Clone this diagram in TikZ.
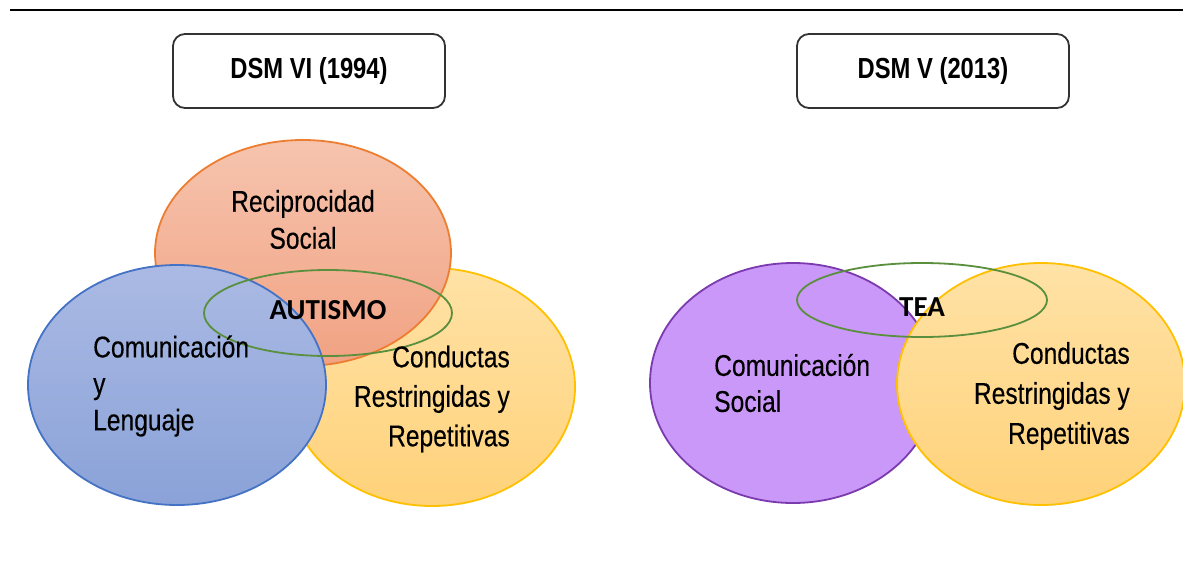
\documentclass[tikz,border=0pt]{standalone}
\usepackage{fontspec}
\setmainfont{Liberation Sans}
\newfontfamily\narrowfont[FakeStretch=0.82,FakeBold=0.25]{Liberation Sans}
\newfontfamily\narrowbold[FakeStretch=0.82]{Liberation Sans Bold}
\newfontfamily\calfont{Carlito}
\usetikzlibrary{shapes.geometric}
\definecolor{orgfillA}{HTML}{F6C4AE}
\definecolor{orgfillB}{HTML}{F1A283}
\definecolor{orgline}{HTML}{ED7D31}
\definecolor{bluefillA}{HTML}{ABBAE4}
\definecolor{bluefillB}{HTML}{8AA2D8}
\definecolor{blueline}{HTML}{4472C4}
\definecolor{yelfillA}{HTML}{FFE2A6}
\definecolor{yelfillB}{HTML}{FFD27A}
\definecolor{yelline}{HTML}{FFC000}
\definecolor{purfill}{HTML}{CA98F8}
\definecolor{purline}{HTML}{7B3AAE}
\definecolor{grnline}{HTML}{5A8F3E}
\definecolor{boxline}{HTML}{333333}
\begin{document}
\begin{tikzpicture}[x=1pt,y=-1pt,
  venn/.style={ellipse, inner sep=0pt, line width=1.8pt},
  titlebox/.style={draw=boxline, line width=1.8pt, rounded corners=12pt, minimum width=272pt, minimum height=74pt, inner sep=0pt, font=\narrowbold\fontsize{29}{32}\selectfont, text=black},
  lbl/.style={inner sep=0pt, text=black},
  core/.style={inner sep=0pt, font=\calfont\bfseries\fontsize{29}{32}\selectfont, text=black}
]
\useasboundingbox (0,0) rectangle (1183,560);
\fill[white] (0,0) rectangle (1183,560);

% top rule
\coordinate (ruleL) at (10,10);
\coordinate (ruleR) at (1183,10);
\draw[line width=2.2pt, black] (ruleL) -- (ruleR);

% title boxes
\node[titlebox] (t1) at (309,71) {DSM VI (1994)};
\node[titlebox] (t2) at (933,71) {DSM V (2013)};

% left Venn
\node[venn, draw=yelline, top color=yelfillA, bottom color=yelfillB, minimum width=286pt, minimum height=238pt] (yel1) at (432,387) {};
\node[venn, draw=orgline, top color=orgfillA, bottom color=orgfillB, minimum width=296pt, minimum height=226pt] (org1) at (303,253) {};
\node[venn, draw=blueline, top color=bluefillA, bottom color=bluefillB, minimum width=298pt, minimum height=240pt] (blu1) at (177,385) {};
\node[venn, draw=grnline, minimum width=248pt, minimum height=86pt] (grn1) at (328,313) {};

\node[lbl, align=center, font=\narrowfont\fontsize{30}{37}\selectfont] (recip) at (303,219.5) {Reciprocidad\\Social};
\node[lbl, align=left, anchor=west, font=\narrowfont\fontsize{30}{36.5}\selectfont] (comu1) at (93,386) {Comunicación\\y\\Lenguaje};
\node[lbl, align=right, anchor=east, font=\narrowfont\fontsize{30}{39.5}\selectfont] (cond1) at (510,399) {Conductas\\Restringidas y\\Repetitivas};
\node[core] (aut) at (328,310) {AUTISMO};

% right Venn
\node[venn, draw=purline, fill=purfill, minimum width=286pt, minimum height=240pt] (pur2) at (793,383) {};
\node[venn, draw=yelline, top color=yelfillA, bottom color=yelfillB, minimum width=288pt, minimum height=242pt] (yel2) at (1041,384) {};
\node[venn, draw=grnline, minimum width=250pt, minimum height=74pt] (grn2) at (922,300) {};

\node[lbl, align=left, anchor=west, font=\narrowfont\fontsize{30}{36}\selectfont] (comu2) at (714,383) {Comunicación\\Social};
\node[lbl, align=right, anchor=east, font=\narrowfont\fontsize{30}{40}\selectfont] (cond2) at (1130,396) {Conductas\\Restringidas y\\Repetitivas};
\node[core] (tea) at (922,307) {TEA};
\end{tikzpicture}
\end{document}
